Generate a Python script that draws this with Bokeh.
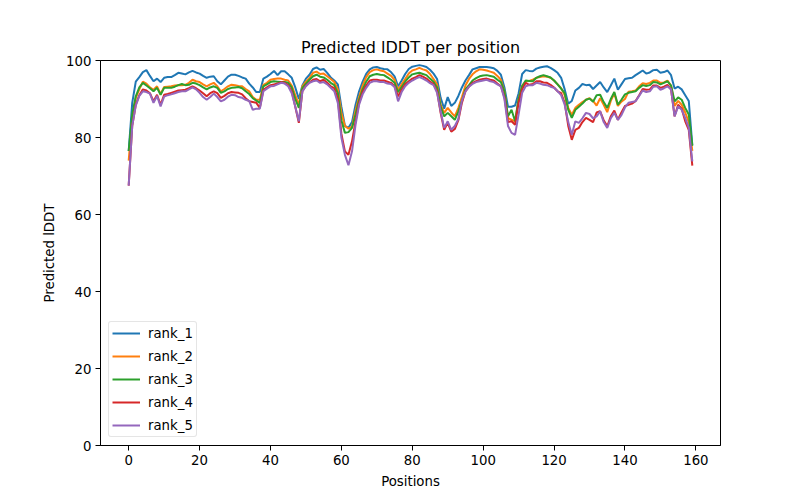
from bokeh.plotting import figure
from bokeh.models import Legend, LegendItem, Range1d, FixedTicker
from bokeh.embed import file_html
from bokeh.resources import INLINE

positions = list(range(160))

rank_1 = [76.5, 89, 94.5, 95.7, 97, 97.5, 96, 94.6, 95.3, 94.4,
          95.5, 95.7, 95.7, 96.2, 96.8, 96.6, 96.4, 96.9, 97.3, 96.9,
          96.6, 96, 95.5, 95.8, 95.9, 94.6, 93.8, 94.8, 95.8, 96.3,
          96.3, 96, 95.6, 95.3, 94, 93, 91.8, 91.8, 95.3, 95.8,
          96.5, 97.3, 96.2, 97.2, 97.2, 96.4, 95.5, 93, 90, 93.5,
          95.3, 96.3, 97.8, 98.2, 97.6, 97.8, 96.8, 95.6, 94.8, 93.8,
          88, 83, 82.5, 84, 88.5, 92, 94.5, 96.5, 97.7, 98.2,
          98.3, 98, 97.8, 97.7, 97, 95.9, 93.3, 94.8, 96.5, 97.8,
          98.4, 98.6, 98.8, 98.6, 98.3, 97.6, 96.6, 95.2, 90.3, 87.5,
          90.5, 88.2, 89, 90.8, 93, 94.8, 96.2, 97.7, 98, 98.3,
          98.3, 98.3, 98.2, 98, 97.3, 96.3, 93, 88, 88, 88.3,
          91.5, 96.5, 97.5, 97.3, 97.2, 97.9, 98.2, 98.4, 98.5, 98.1,
          97.5, 96.8, 95.5, 92.5, 88.8, 89.5, 92.2, 92.9, 93.9, 93.6,
          93.7, 92.6, 93.5, 94.4, 93, 91.8, 93.5, 95.3, 92.4, 93.8,
          95.2, 95.4, 95.5, 96.2, 96.8, 97.4, 96.6, 96.9, 97.5, 97.6,
          96.8, 97, 97.4, 96.2, 92.7, 93.2, 92.5, 91, 89.5, 78]

rank_2 = [74, 85, 90.3, 92.5, 94.5, 94, 93, 92.4, 93.3, 91.3,
          93.1, 93.2, 93.3, 93.5, 93.6, 93.6, 93.7, 94.2, 95, 94.6,
          94.4, 93.8, 93.3, 93.8, 94.2, 93.3, 92, 92.6, 93.3, 93.7,
          93.6, 93.4, 93.3, 92.6, 92, 90.5, 89.8, 89.8, 93.7, 94.2,
          95, 95.2, 95.3, 95.3, 95, 94.8, 93.5, 91, 88.5, 93.3,
          94.5, 95.5, 96.8, 97.1, 96.5, 96.6, 95.9, 95.2, 94.4, 92.5,
          86.5, 83, 82.3, 82.8, 87, 90.5, 93.5, 95.7, 97, 97.5,
          97.7, 97.4, 97.2, 96.6, 96, 95, 92.4, 93.8, 95.2, 96.6,
          97.4, 97.7, 98.1, 97.7, 97.4, 96.5, 95.2, 93.8, 88.5, 86.4,
          87.7, 86.5, 85.5, 87.7, 90.5, 93.5, 95.2, 96.4, 97.2, 97.7,
          97.6, 97.4, 97.1, 96.8, 96, 95, 92, 85, 84.6, 84.2,
          90, 93.5, 94.6, 94.7, 95, 95.5, 95.7, 95.9, 95.8, 95.5,
          94.8, 93.8, 92.8, 91, 87.7, 85.9, 87.7, 88.5, 89.2, 89.8,
          90.2, 89.5, 88.3, 90.2, 88.5, 86.6, 89.5, 91.5, 88.2, 89.3,
          90, 91.9, 92, 92.2, 93.3, 94.1, 93.9, 94.2, 94.8, 94.8,
          94.2, 94.3, 94.8, 93.5, 88.2, 89.5, 88.5, 86.5, 84, 76.5]

rank_3 = [76.5, 86, 90.7, 93, 94.2, 93.5, 92.8, 92, 92.9, 91.1,
          92.9, 92.9, 92.9, 93.2, 93.6, 93.9, 93.6, 93.7, 94.2, 94,
          93.6, 93, 92.5, 93, 93.3, 92.9, 91.6, 92, 92.6, 92.9,
          93, 93.1, 92.8, 92, 91.3, 90.2, 89.6, 89, 93.3, 93.8,
          94.4, 94.6, 94.5, 94.4, 94.4, 94.2, 93, 90, 87.7, 92.9,
          94, 95, 95.9, 96.3, 95.8, 95.6, 95, 94.2, 93.6, 91.5,
          84.5, 81.2, 81.4, 82.5, 86, 89.8, 92.5, 94.5, 95.9, 96.3,
          96.5, 96.3, 96.2, 95.6, 95, 94.2, 91.8, 93.1, 94.5, 95.6,
          96.4, 96.6, 96.8, 96.5, 96.2, 95.3, 94.5, 93, 88, 85.5,
          86.4, 85.5, 84.6, 86.8, 89.5, 92.5, 93.6, 94.8, 95.4, 95.9,
          96.1, 96.2, 96, 95.8, 95, 94.4, 92, 85.5, 87.2, 84.2,
          90, 93.3, 94.8, 94.7, 94.6, 95.5, 95.9, 96.2, 95.9, 95.6,
          94.8, 93.8, 92.7, 91.5, 87.2, 85.1, 87.2, 88, 88.8, 89.8,
          90.1, 89.3, 91, 91.1, 89.2, 87.7, 90, 91.8, 88.5, 89.8,
          91.2, 91.6, 91.8, 92, 92.9, 93.6, 93.4, 93.6, 94.4, 94.3,
          93.8, 94.2, 94.6, 93.5, 89.4, 90.4, 89.8, 87.7, 86, 77.8]

rank_4 = [67.5, 83, 88.5, 91, 92.5, 92.2, 91.5, 89.4, 91.1, 88.5,
          91.1, 91.3, 91.6, 91.9, 92.2, 92.3, 92.4, 92.8, 93.3, 92.8,
          92.2, 91.5, 90.7, 91.5, 92, 91.5, 90.3, 90.8, 91.5, 91.8,
          91.7, 91.6, 91.2, 90.2, 89.4, 89.2, 89, 87.7, 92.4, 93,
          93.6, 93.8, 94, 94.4, 94.2, 93.6, 92, 88, 83.8, 92,
          93.5, 94.3, 95, 95.2, 94.6, 95, 94.2, 93.3, 92.8, 90,
          81, 76.4, 75.5, 79, 84.2, 89, 91.8, 93.5, 94.8, 95,
          95, 94.8, 94.8, 94.5, 94.2, 93.3, 90.7, 92.4, 93.8, 94.6,
          95.3, 95.7, 96.2, 95.8, 95.3, 94.5, 93.9, 92, 86.4, 82,
          83.8, 81.5, 82.2, 84.5, 89, 92, 93.2, 94.2, 94.6, 95,
          95.2, 95.3, 95, 94.8, 94, 93.3, 90.5, 84, 84.2, 83.3,
          89, 92.5, 94.2, 93.7, 93.9, 94.6, 94.6, 94.3, 94.2, 93.7,
          93, 92, 91.5, 89, 83, 79.4, 82, 82.5, 84, 85.1,
          84.6, 84, 86.5, 86.8, 84.5, 82.9, 85.5, 87, 84.6, 86.5,
          88.2, 88.5, 88.8, 89.5, 91, 92.6, 92.4, 92.5, 93.5, 93.5,
          92.9, 93.2, 93.7, 92.5, 85.5, 88.5, 87.5, 84.2, 82, 72.7]

rank_5 = [67.5, 83, 88.3, 90.8, 92, 91.8, 91.4, 89, 90.8, 88.1,
          90.6, 91, 91.2, 91.5, 91.8, 92, 92, 92.5, 93, 92.5,
          91.6, 90.5, 89.8, 90.5, 91.4, 90.5, 89.4, 89.8, 90.6, 91.1,
          91, 90.5, 90.3, 89.8, 89.5, 87.2, 87.5, 87.5, 92, 92.7,
          93.3, 93.4, 93.8, 94.2, 94, 93.3, 91.5, 88, 84.2, 92,
          93.3, 94.2, 94.6, 94.8, 94.2, 94.4, 93.8, 92.9, 92, 89,
          80, 75.5, 72.8, 76.4, 83.3, 88.5, 91.2, 92.9, 94.2, 94.6,
          94.6, 94.4, 94.4, 94, 93.9, 93.1, 89.4, 91.8, 93.3, 94.2,
          94.8, 95.3, 95.7, 95.3, 94.8, 94.1, 93.6, 91.6, 86.8, 82.5,
          84.2, 82, 83, 84.8, 89.5, 92, 93.2, 93.9, 94.4, 94.6,
          94.8, 95, 94.6, 94.4, 93.8, 93.3, 90, 83, 81.2, 80.7,
          86, 91.6, 93.3, 93.6, 93.6, 94.2, 94, 93.7, 93.6, 93.2,
          92.9, 92, 91, 88.5, 84, 80.7, 84.2, 83.8, 85, 86.4,
          86.1, 85, 85.5, 86.8, 84, 82.5, 85, 86.4, 84.6, 85.8,
          87.8, 89, 89.2, 89.4, 90.8, 92.2, 91.8, 92, 93.2, 93.3,
          92.4, 92.8, 93.3, 92.5, 85.5, 88.1, 87.2, 85.1, 82.5, 73.8]

series_names = ["rank_1", "rank_2", "rank_3", "rank_4", "rank_5"]
series_values = [rank_1, rank_2, rank_3, rank_4, rank_5]
colors = ["#1f77b4", "#ff7f0e", "#2ca02c", "#d62728", "#9467bd"]
x_ticks = [0, 20, 40, 60, 80, 100, 120, 140, 160]
y_ticks = [0, 20, 40, 60, 80, 100]

FONT = "DejaVu Sans"

p = figure(width=800, height=500, frame_width=620, frame_height=385,
           output_backend="svg", toolbar_location=None,
           title="Predicted lDDT per position",
           x_range=Range1d(-7.95, 166.95), y_range=Range1d(0, 100),
           min_border_left=100, min_border_right=80,
           min_border_top=60, min_border_bottom=55)

p.title.align = "center"
p.title.text_font = FONT
p.title.text_font_size = "16px"
p.title.text_font_style = "normal"
p.title.text_color = "black"
p.title.standoff = 8

p.grid.visible = False
p.outline_line_color = "black"
p.outline_line_width = 1
p.outline_line_alpha = 1.0
p.background_fill_color = "white"
p.border_fill_color = "white"

for ax, ticks in ((p.xaxis[0], x_ticks), (p.yaxis[0], y_ticks)):
    ax.ticker = FixedTicker(ticks=ticks)
    ax.minor_tick_line_color = None
    ax.major_tick_in = 0
    ax.major_tick_out = 5
    ax.major_tick_line_color = "black"
    ax.axis_line_color = "black"
    ax.major_label_text_font = FONT
    ax.major_label_text_font_size = "13.3px"
    ax.major_label_text_color = "black"
    ax.major_label_standoff = 4
    ax.axis_label_text_font = FONT
    ax.axis_label_text_font_size = "13.3px"
    ax.axis_label_text_font_style = "normal"
    ax.axis_label_text_color = "black"
    ax.axis_label_standoff = 6

p.xaxis.axis_label = "Positions"
p.yaxis.axis_label = "Predicted lDDT"

items = []
for name, vals, col in zip(series_names, series_values, colors):
    r = p.line(positions, vals, line_color=col, line_width=2)
    items.append(LegendItem(label=name, renderers=[r]))

legend = Legend(items=items, location="bottom_left")
legend.margin = 8
legend.padding = 3
legend.spacing = 7
legend.glyph_width = 28
legend.glyph_height = 16
legend.label_height = 16
legend.label_standoff = 8
legend.label_text_font = FONT
legend.label_text_font_size = "13.3px"
legend.label_text_color = "black"
legend.border_line_color = "#cccccc"
legend.border_line_width = 1
legend.border_radius = 3
legend.background_fill_alpha = 0.8
p.add_layout(legend)

open("out.html", "w").write(file_html(p, INLINE))
